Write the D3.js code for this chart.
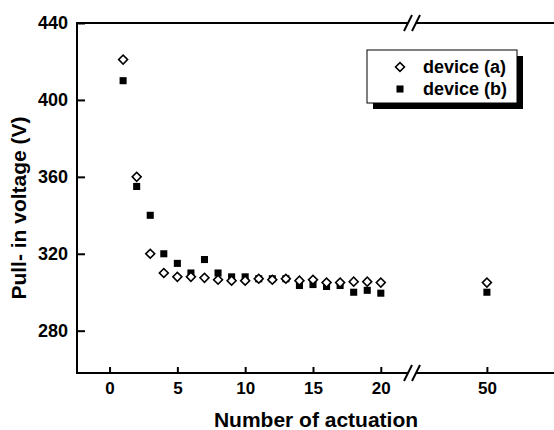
<!DOCTYPE html>
<html>
<head>
<meta charset="utf-8">
<script src="https://cdn.jsdelivr.net/npm/d3@7"></script>
<style>
  body { margin: 0; background: #fff; }
  text { font-family: "Liberation Sans", Arial, sans-serif; font-weight: bold; fill: #000; }
</style>
</head>
<body>
<div id="chart"></div>
<script>

// data
let actuations = [1, 2, 3, 4, 5, 6, 7, 8, 9, 10, 11, 12, 13, 14, 15, 16, 17, 18, 19, 20, 50]
let deviceA = [421, 360, 320, 310, 308, 308, 307.5, 306.5, 306, 306, 307, 306.5, 307, 306, 306.5, 305, 305, 305.5, 305.5, 305, 305]
let deviceB = [410, 355, 340, 320, 315, 310, 317, 310, 308, 308, 307, 307, 307, 303.5, 304, 303, 303.5, 300, 301, 299.5, 300]
let seriesNames = ["device (a)", "device (b)"]
let xTicksLeft = [0, 5, 10, 15, 20]
let xTicksRight = [50]
let yTicks = [280, 320, 360, 400, 440]

let width = 554, height = 430

let svg = d3.select("#chart").append("svg")
    .attr("width", width)
    .attr("height", height)

// broken x axis: two linear pieces
let xLeft = d3.scaleLinear().domain([-2.4, 22.3]).range([77, 412])
let xRight = d3.scaleLinear().domain([44.5, 55]).range([412, 555])
let x = v => v < 30 ? xLeft(v) : xRight(v)

let y = d3.scaleLinear().domain([258, 440]).range([373, 23])

let breakX = xLeft.range()[1]
let gap = 4

// x axes (ticks pointing inward)
let gxLeft = svg.append("g")
    .attr("transform", "translate(0," + y.range()[0] + ")")
    .call(d3.axisBottom(xLeft).tickValues(xTicksLeft).tickSizeInner(-6).tickSizeOuter(0).tickPadding(9))
let gxRight = svg.append("g")
    .attr("transform", "translate(0," + y.range()[0] + ")")
    .call(d3.axisBottom(xRight).tickValues(xTicksRight).tickSizeInner(-6).tickSizeOuter(0).tickPadding(9))

let gy = svg.append("g")
    .attr("transform", "translate(" + xLeft.range()[0] + ",0)")
    .call(d3.axisLeft(y).tickValues(yTicks).tickSizeInner(-8).tickSizeOuter(0).tickPadding(9))

svg.selectAll(".domain").remove()
svg.selectAll(".tick line").attr("stroke", "#000").attr("stroke-width", 2)
gxLeft.selectAll("text").style("font-size", "17px")
gxRight.selectAll("text").style("font-size", "17px")
gy.selectAll("text").style("font-size", "18px")

// frame lines with gaps at the break
let frame = svg.append("g").attr("stroke", "#000").attr("stroke-width", 2).attr("fill", "none")
let yTop = y.range()[1], yBot = y.range()[0]
;[yTop, yBot].forEach(yy => {
    frame.append("line").attr("x1", xLeft.range()[0] - 1).attr("x2", breakX - gap).attr("y1", yy).attr("y2", yy)
    frame.append("line").attr("x1", breakX + gap).attr("x2", xRight.range()[1]).attr("y1", yy).attr("y2", yy)
    // the "//" marks
    ;[-gap, gap].forEach(off => {
        frame.append("line")
            .attr("x1", breakX + off - 4).attr("y1", yy + 8)
            .attr("x2", breakX + off + 4).attr("y2", yy - 8)
    })
})
frame.append("line")
    .attr("x1", xLeft.range()[0]).attr("x2", xLeft.range()[0])
    .attr("y1", yTop - 1).attr("y2", yBot + 1)

// device (b) squares first, diamonds on top
let square = d3.symbol().type(d3.symbolSquare).size(50)
let diamond = d3.symbol().type(d3.symbolSquare).size(40)

svg.selectAll(".pt-b").data(actuations)
    .enter().append("path")
    .attr("class", "pt-b")
    .attr("d", square)
    .attr("fill", "#000")
    .attr("transform", (d, i) => "translate(" + x(d) + "," + y(deviceB[i]) + ")")

svg.selectAll(".pt-a").data(actuations)
    .enter().append("path")
    .attr("class", "pt-a")
    .attr("d", diamond)
    .attr("fill", "#fff")
    .attr("stroke", "#000")
    .attr("stroke-width", 1.6)
    .attr("transform", (d, i) => "translate(" + x(d) + "," + y(deviceA[i]) + ") rotate(45)")

// axis titles
svg.append("text")
    .attr("x", 316).attr("y", 427)
    .attr("text-anchor", "middle")
    .style("font-size", "21px")
    .text("Number of actuation")

svg.append("text")
    .attr("transform", "translate(26,208) rotate(-90)")
    .attr("text-anchor", "middle")
    .style("font-size", "21px")
    .text("Pull- in voltage (V)")

// legend with drop shadow
let legend = svg.append("g").attr("transform", "translate(367,50)")
legend.append("rect").attr("x", 6).attr("y", 6).attr("width", 150).attr("height", 53).attr("fill", "#000")
legend.append("rect").attr("width", 150).attr("height", 53).attr("fill", "#fff").attr("stroke", "#000").attr("stroke-width", 1)

let items = legend.selectAll(".item").data(seriesNames)
    .enter().append("g")
    .attr("class", "item")
    .attr("transform", (d, i) => "translate(33," + (17 + i * 22) + ")")

items.append("path")
    .attr("d", (d, i) => i === 0 ? diamond() : square())
    .attr("transform", (d, i) => i === 0 ? "rotate(45)" : null)
    .attr("fill", (d, i) => i === 0 ? "#fff" : "#000")
    .attr("stroke", (d, i) => i === 0 ? "#000" : "none")
    .attr("stroke-width", 1.6)

items.append("text")
    .attr("x", 23)
    .attr("dy", "0.35em")
    .style("font-size", "18px")
    .text(d => d)

</script>
</body>
</html>
